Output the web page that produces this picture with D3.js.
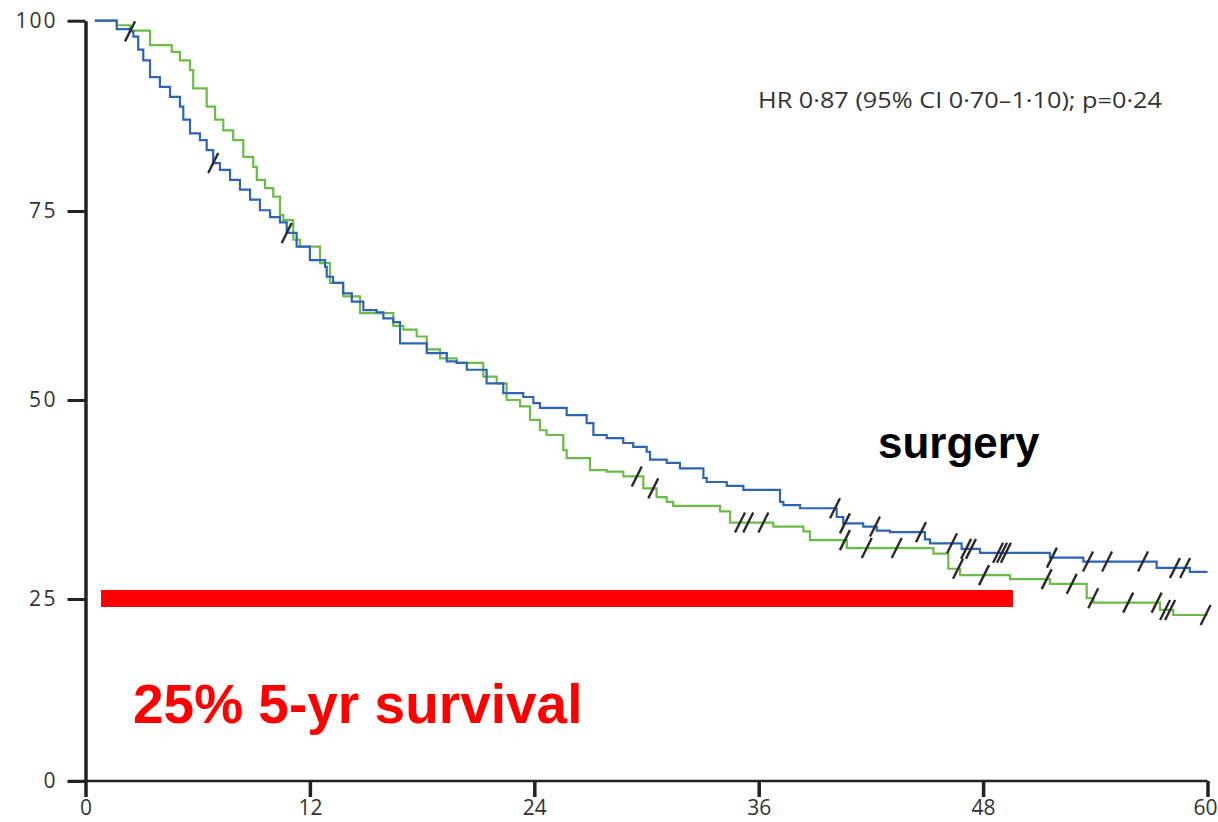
<!DOCTYPE html>
<html>
<head>
<meta charset="utf-8">
<script src="https://cdn.jsdelivr.net/npm/d3@7"></script>
<style>
  body { margin: 0; background: #fff; }
  .tick text { fill: #333; font-family: "Open Sans", sans-serif; }
</style>
</head>
<body>
<div id="chart"></div>
<script>
// months / survival (%)
const blueT = [0.5, 1.67, 2.38, 2.56, 2.82, 3.09, 3.45, 3.98, 4.52, 5.05, 5.23, 5.59, 6.12, 6.48, 6.83, 7.19, 7.73, 8.26, 8.8, 9.33, 9.87, 10.4, 10.76, 11.29, 12.0, 12.81, 12.9, 13.24, 13.77, 14.24, 14.86, 15.57, 15.93, 16.46, 16.82, 18.25, 19.32, 19.85, 20.39, 21.45, 22.34, 23.41, 23.95, 24.3, 25.73, 26.8, 27.16, 27.87, 28.76, 29.29, 30.01, 30.19, 31.08, 31.79, 33.04, 33.22, 34.29, 35.18, 37.14, 37.32, 38.21, 40.17, 40.52, 41.59, 42.31, 43.02, 44.89, 45.16, 46.85, 47.83, 51.57, 53.36, 57.28, 59.06, 60];
const blueS = [100, 98.9, 98.6, 97.9, 96.2, 94.8, 92.6, 91.3, 90.0, 88.7, 87.0, 85.2, 84.3, 83.0, 81.3, 80.4, 79.1, 77.8, 76.5, 75.1, 74.2, 73.5, 72.1, 70.3, 68.5, 67.6, 66.3, 65.5, 64.1, 63.0, 61.9, 61.6, 60.8, 60.3, 57.5, 56.2, 55.1, 54.9, 54.0, 52.2, 50.9, 50.4, 49.6, 49.0, 48.1, 47.1, 45.6, 45.2, 44.6, 44.1, 43.5, 42.5, 42.1, 41.4, 40.2, 39.7, 39.2, 38.7, 37.2, 36.8, 36.4, 35.3, 34.5, 34.1, 33.6, 33.4, 32.5, 32.0, 31.3, 30.8, 30.2, 29.7, 28.9, 28.4, 28.4];
const blueCens = [2.38, 6.83, 10.76, 40.08, 40.61, 42.22, 44.68, 46.34, 47.09, 47.35, 48.8, 49.01, 49.22, 51.68, 53.61, 54.63, 56.55, 58.26, 58.8];

const greenT = [0.5, 1.67, 2.38, 3.45, 4.61, 5.05, 5.59, 5.76, 6.48, 6.93, 7.37, 7.9, 8.44, 8.97, 9.16, 9.6, 10.04, 10.4, 10.58, 11.11, 11.47, 12.54, 13.07, 13.79, 14.68, 16.46, 17.0, 17.71, 18.25, 18.96, 19.85, 21.27, 21.99, 22.52, 23.24, 23.77, 24.3, 24.66, 25.55, 25.73, 26.98, 27.87, 28.76, 29.83, 30.54, 31.08, 31.43, 33.93, 34.47, 36.78, 38.39, 38.74, 40.71, 45.34, 46.14, 46.77, 49.44, 51.57, 53.54, 53.9, 57.46, 58.17, 60];
const greenS = [100, 99.4, 98.7, 96.8, 95.9, 94.8, 93.5, 91.1, 88.7, 87.0, 85.6, 84.3, 82.1, 80.8, 79.1, 78.0, 76.9, 74.5, 73.8, 71.2, 70.3, 68.1, 65.5, 63.7, 61.5, 59.8, 59.3, 58.4, 56.7, 55.5, 54.9, 53.1, 52.2, 50.0, 49.2, 47.5, 46.2, 45.6, 43.7, 42.7, 41.2, 41.0, 40.4, 38.9, 37.8, 37.2, 36.7, 36.0, 34.6, 34.1, 33.5, 32.4, 31.4, 30.7, 28.8, 28.0, 27.5, 26.9, 25.1, 24.5, 23.5, 22.8, 22.8];
const greenCens = [29.48, 30.36, 35.0, 35.44, 36.25, 40.61, 41.78, 43.38, 46.66, 48.05, 51.4, 52.74, 53.89, 55.76, 57.28, 57.73, 58.0, 59.9];

const xTicks = [0, 12, 24, 36, 48, 60];
const yTicks = [0, 25, 50, 75, 100];
const refBar = [0.83, 49.6];   // months covered by the red 25% bar
const refLevel = 25;

const w = 1218;
const h = 822;

const x = d3.scaleLinear().domain([0, 60]).range([85.5, 1207.5]);
// the printed axis is slightly uneven, so map each tick where it sits
const y = d3.scaleLinear().domain(yTicks).range([781, 599, 400, 211, 20.7]);

const svg = d3.select("#chart").append("svg")
  .attr("width", w)
  .attr("height", h);

const xAxis = svg.append("g")
  .attr("transform", "translate(0," + y(0) + ")")
  .call(d3.axisBottom(x).tickValues(xTicks).tickSize(16).tickSizeOuter(0).tickPadding(3));
xAxis.select(".domain").attr("stroke", "#222").attr("stroke-width", 2.5).attr("d", "M68,0H" + x(60));
xAxis.selectAll(".tick line").attr("stroke", "#222").attr("stroke-width", 3.5);
xAxis.selectAll(".tick text").style("font-size", "21px");
// last label sits against the right edge
xAxis.selectAll(".tick text").filter((d) => d === 60)
  .attr("text-anchor", "end")
  .attr("dx", w - 1 - x(60));

const yAxis = svg.append("g")
  .attr("transform", "translate(" + x(0) + ",0)")
  .call(d3.axisLeft(y).tickValues(yTicks).tickSize(18).tickSizeOuter(0).tickPadding(12));
yAxis.select(".domain").attr("stroke", "#222").attr("stroke-width", 3.5);
yAxis.selectAll(".tick line").attr("stroke", "#222").attr("stroke-width", 3);
yAxis.selectAll(".tick text").style("font-size", "21px").attr("textLength", (d) => String(d).length * 13.3);

const line = d3.line()
  .x((d) => x(d[0]))
  .y((d) => y(d[1]))
  .curve(d3.curveStepAfter);

const survAt = (T, S, t) => S[d3.bisectRight(T, t) - 1];

const series = [
  { T: greenT, S: greenS, cens: greenCens, color: "#6cbb47" },
  { T: blueT, S: blueS, cens: blueCens, color: "#2f63b5" }
];

series.forEach((s) => {
  svg.append("path")
    .datum(s.T.map((t, i) => [t, s.S[i]]))
    .attr("fill", "none")
    .attr("stroke", s.color)
    .attr("stroke-width", 2.2)
    .attr("d", line);
});

series.forEach((s) => {
  svg.selectAll(null)
    .data(s.cens)
    .enter()
    .append("line")
    .attr("x1", (d) => x(d) - 5)
    .attr("y1", (d) => y(survAt(s.T, s.S, d)) + 10)
    .attr("x2", (d) => x(d) + 5)
    .attr("y2", (d) => y(survAt(s.T, s.S, d)) - 10)
    .attr("stroke", "#2a2a2a")
    .attr("stroke-width", 2.4);
});

svg.append("text")
  .attr("x", 758)
  .attr("y", 108)
  .attr("textLength", 404)
  .attr("lengthAdjust", "spacingAndGlyphs")
  .style("font-family", "'Open Sans', sans-serif")
  .style("font-size", "21px")
  .style("fill", "#333")
  .text("HR 0·87 (95% CI 0·70–1·10); p=0·24");

svg.append("rect")
  .attr("x", x(refBar[0]))
  .attr("y", y(refLevel) - 9)
  .attr("width", x(refBar[1]) - x(refBar[0]))
  .attr("height", 17)
  .attr("fill", "#ff0000");

svg.append("text")
  .attr("x", 878)
  .attr("y", 458)
  .style("font-family", "'Liberation Sans', Arial, sans-serif")
  .style("font-weight", "bold")
  .style("font-size", "44px")
  .style("fill", "#000")
  .text("surgery");

svg.append("text")
  .attr("x", 133)
  .attr("y", 723)
  .style("font-family", "'Liberation Sans', Arial, sans-serif")
  .style("font-weight", "bold")
  .style("font-size", "55px")
  .style("fill", "#ff0000")
  .text("25% 5-yr survival");
</script>
</body>
</html>
